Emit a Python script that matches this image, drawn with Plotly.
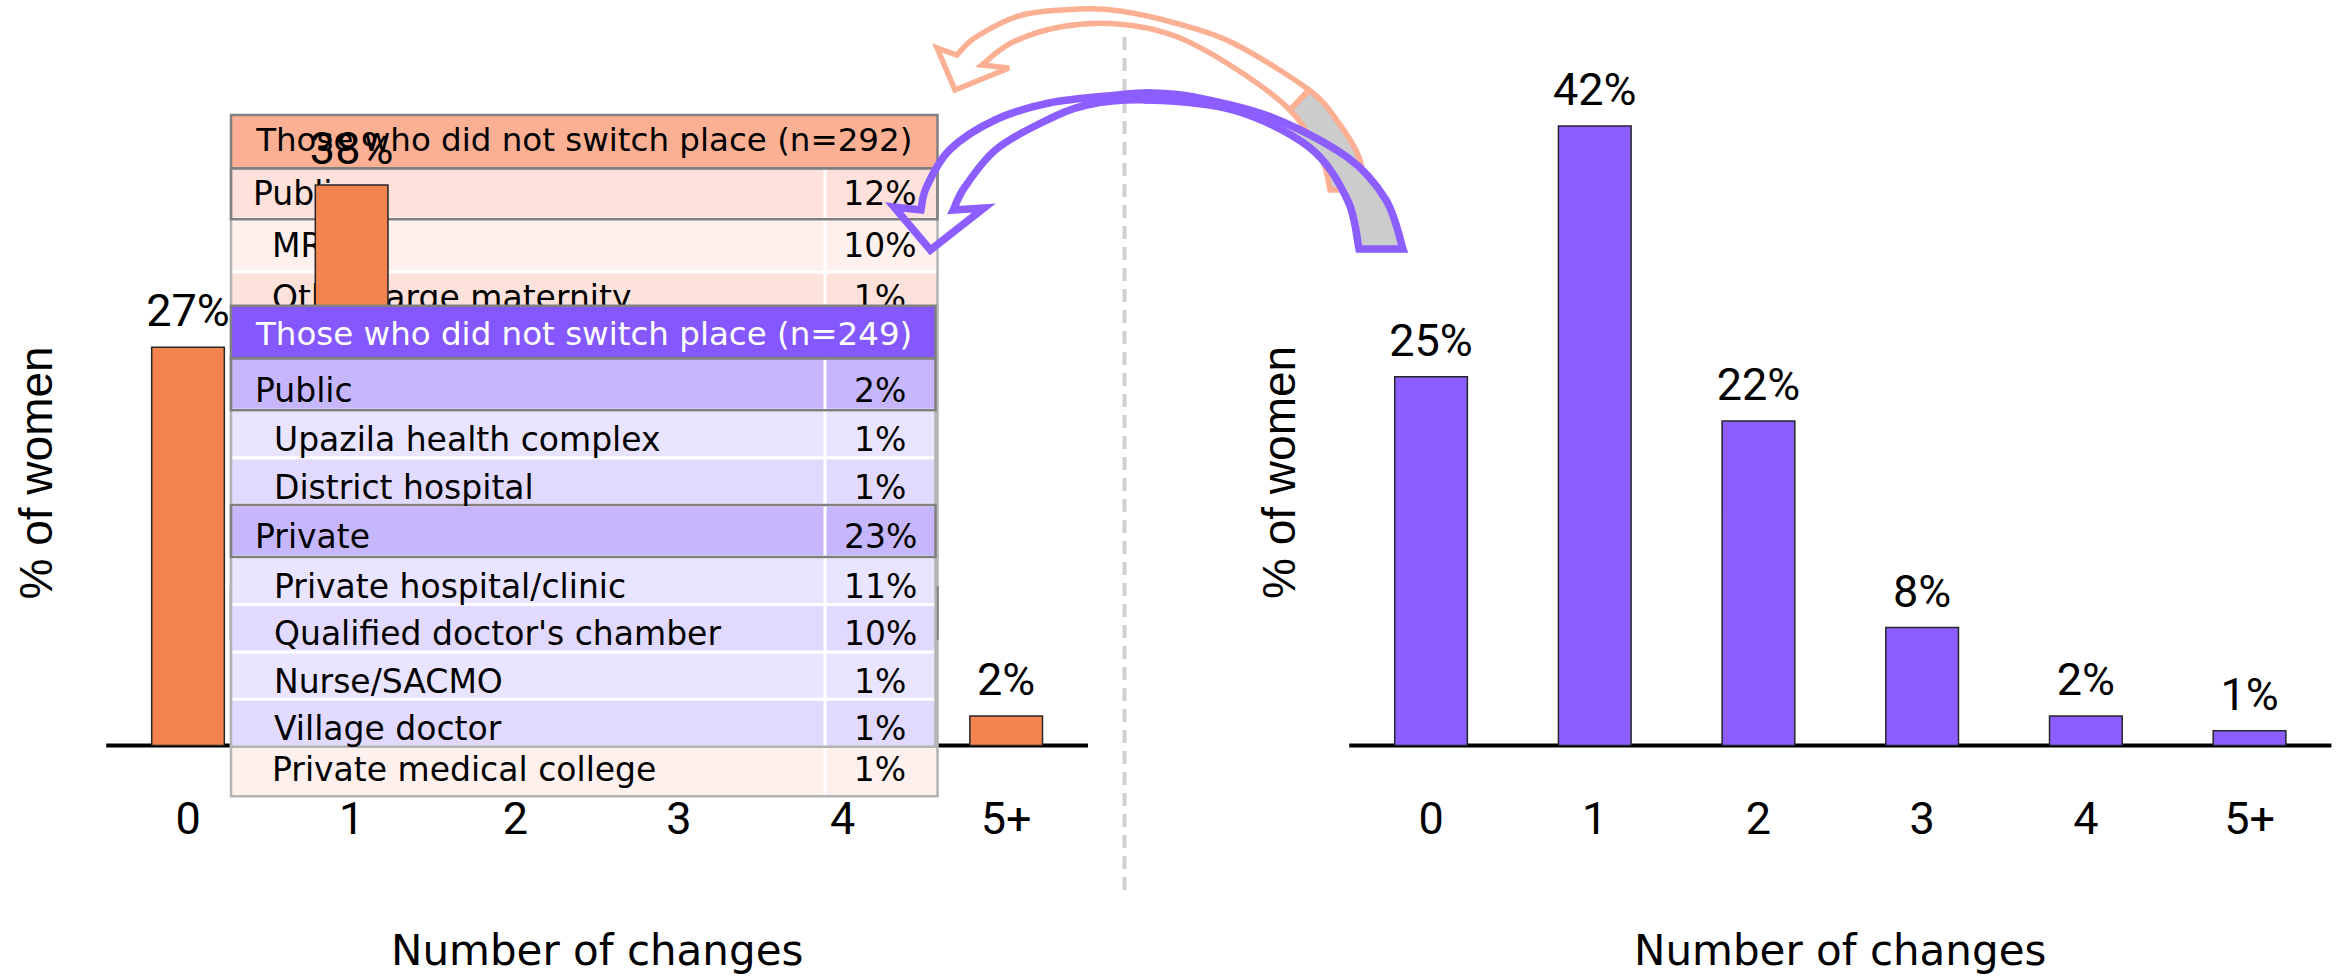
import plotly.graph_objects as go

# ------------------------------------------------------------------ data
categories = ["0", "1", "2", "3", "4", "5+"]
left_percent = [27, 38, 22, 8, 3, 2]      # bars 2-4 sit hidden behind the tables (estimated)
right_percent = [25, 42, 22, 8, 2, 1]

# orange table: rows 4-8 and 10-11 are completely covered in the picture (text unknown)
orange_title = "Those who did not switch place (n=292)"
orange_labels = ["Public", "MR", "Other large maternity", "", "", "", "", "",
                 "", "", "", "Private medical college"]
orange_values = ["12%", "10%", "1%", "", "", "", "", "",
                 "", "", "", "1%"]
orange_kinds = ["section", "sub", "sub", "sub", "sub", "sub", "sub", "sub",
                "section", "sub", "sub", "sub"]

purple_title = "Those who did not switch place (n=249)"
purple_labels = ["Public", "Upazila health complex", "District hospital", "Private",
                 "Private hospital/clinic", "Qualified doctor's chamber",
                 "Nurse/SACMO", "Village doctor"]
purple_values = ["2%", "1%", "1%", "23%", "11%", "10%", "1%", "1%"]
purple_kinds = ["section", "sub", "sub", "section", "sub", "sub", "sub", "sub"]

x_title = "Number of changes"
y_title = "% of women"

# ------------------------------------------------------------------ styles / geometry
W, H = 2341, 976
LABEL_FONT = "Roboto, Liberation Sans, sans-serif"
DEJAVU = "DejaVu Sans, Verdana, sans-serif"
ARIAL = "Liberation Sans, Arial, sans-serif"

ORANGE = "#F4844F"
PURPLE = "#8C5EFF"
BAR_LINE = "#262626"
ARROW_ORANGE = "#FBB093"
ARROW_PURPLE = "#8C5EFF"
ARROW_BACK = "#CCCCCC"


def px_x(v):
    return v / W


def px_y(v):
    return 1 - v / H


BASE_PX = 745.6
PX_PER_PCT = 14.75
Y_MAX = 50
Y_DOMAIN = [px_y(BASE_PX), px_y(BASE_PX - Y_MAX * PX_PER_PCT)]
LEFT_DOMAIN = [px_x(106.2), px_x(1088.0)]
RIGHT_DOMAIN = [px_x(1349.2), px_x(2331.4)]

orange_style = dict(x0=231.0, x1=937.5, top=115.0, head_h=53.3, sec_h=51.0, sub_h=52.6,
                    col=825.0, val_x=880.0, head_fill="#FBB093", head_font="black",
                    sec_fill="#FDE1DA", sub_fills=["#FEF0EC", "#FDE2DB"],
                    dark_line="#808080", outer_line="#B4B4B4", text_dy=3.0)
purple_style = dict(x0=231.0, x1=935.5, top=305.7, head_h=52.6, sec_h=52.0, sub_h=47.4,
                    col=825.0, val_x=880.0, head_fill="#8457FF", head_font="white",
                    sec_fill="#C6B7FD", sub_fills=["#E9E4FF", "#E1DAFE"],
                    dark_line="#808080", outer_line="#B4B4B4", text_dy=5.0)
HEAD_SIZE, ROW_SIZE = 32.5, 33


def table_rows(kinds, st):
    rows, y, k = [], st["top"] + st["head_h"], 0
    for kind in kinds:
        sec = kind == "section"
        h = st["sec_h"] if sec else st["sub_h"]
        if sec:
            fill, k = st["sec_fill"], 0
        else:
            fill = st["sub_fills"][k % 2]
            k += 1
        rows.append(dict(y0=y, y1=y + h, sec=sec, fill=fill))
        y += h
    return rows


def table_shapes(rows, st, layer):
    x0, x1 = st["x0"], st["x1"]
    top = st["top"]
    hb = top + st["head_h"]
    bottom = rows[-1]["y1"]
    c = dict(xref="x", yref="y", layer=layer)
    none = "rgba(0,0,0,0)"
    shp = []
    for r in rows:
        shp.append(dict(type="rect", x0=x0, x1=x1, y0=r["y0"], y1=r["y1"],
                        fillcolor=r["fill"], line=dict(width=0), **c))
    for r in rows[:-1]:
        shp.append(dict(type="line", x0=x0, x1=x1, y0=r["y1"], y1=r["y1"],
                        line=dict(color="white", width=3), **c))
    shp.append(dict(type="line", x0=st["col"], x1=st["col"], y0=hb, y1=bottom,
                    line=dict(color="white", width=3), **c))
    shp.append(dict(type="rect", x0=x0, x1=x1, y0=hb, y1=bottom, fillcolor=none,
                    line=dict(color=st["outer_line"], width=2.5), **c))
    for r in rows:
        if r["sec"]:
            shp.append(dict(type="rect", x0=x0, x1=x1, y0=r["y0"], y1=r["y1"], fillcolor=none,
                            line=dict(color=st["dark_line"], width=2.5), **c))
    shp.append(dict(type="rect", x0=x0, x1=x1, y0=top, y1=hb, fillcolor=st["head_fill"],
                    line=dict(color=st["dark_line"], width=2.5), **c))
    return shp


def table_text(title, labels, values, rows, st):
    items = []  # (x, y, text, position, color, size)
    cx = (st["x0"] + st["x1"]) / 2
    items.append((cx, st["top"] + st["head_h"] / 2 + 1.5, title, "center",
                  st["head_font"], HEAD_SIZE))
    for lab, val, r in zip(labels, values, rows):
        mid = (r["y0"] + r["y1"]) / 2 + st["text_dy"]
        if lab:
            items.append((st["x0"] + (22 if r["sec"] else 41), mid, lab, "left", "black", ROW_SIZE))
        if val:
            items.append((st["val_x"], mid, val, "center", "black", ROW_SIZE))
    return items


# ------------------------------------------------------------------ arrows (decoration)
def bezier_segments(pts):
    segs, n = [], len(pts)
    for i in range(n - 1):
        p0, p1, p2, p3 = pts[max(i - 1, 0)], pts[i], pts[i + 1], pts[min(i + 2, n - 1)]
        c1 = (p1[0] + (p2[0] - p0[0]) / 6, p1[1] + (p2[1] - p0[1]) / 6)
        c2 = (p2[0] - (p3[0] - p1[0]) / 6, p2[1] - (p3[1] - p1[1]) / 6)
        segs.append((p1, c1, c2, p2))
    return segs


def seg_str(segs, reverse=False):
    out = ""
    if reverse:
        for p1, c1, c2, p2 in reversed(segs):
            out += f" C {c2[0]:.1f},{c2[1]:.1f} {c1[0]:.1f},{c1[1]:.1f} {p1[0]:.1f},{p1[1]:.1f}"
    else:
        for p1, c1, c2, p2 in segs:
            out += f" C {c1[0]:.1f},{c1[1]:.1f} {c2[0]:.1f},{c2[1]:.1f} {p2[0]:.1f},{p2[1]:.1f}"
    return out


def arrow_paths(outer, inner, so_i, si_i, head):
    so, si = bezier_segments(outer), bezier_segments(inner)
    back = (f"M {outer[0][0]},{outer[0][1]}" + seg_str(so[:so_i]) +
            f" L {inner[si_i][0]},{inner[si_i][1]}" + seg_str(si[:si_i], reverse=True) + " Z")
    front = (f"M {outer[so_i][0]},{outer[so_i][1]}" + seg_str(so[so_i:]) +
             "".join(f" L {x},{y}" for x, y in head) + seg_str(si[si_i:], reverse=True) + " Z")
    return back, front


orange_arrow = dict(
    outer=[(1365, 190), (1359, 157), (1338, 122), (1309, 90), (1233, 43), (1175, 23),
           (1120, 11), (1080, 9), (1022, 15), (976, 37), (957, 55)],
    inner=[(1330, 190), (1321, 157), (1290, 110), (1233, 67), (1175, 36), (1118, 24),
           (1060, 27), (1011, 43), (982, 65)],
    so=3, si=2, head=[(937, 48), (955, 90), (1009, 68), (982, 65)], width=5.5)
purple_arrow = dict(
    outer=[(1403, 249), (1386, 200), (1347, 157), (1271, 117), (1194, 97), (1148, 93),
           (1118, 95), (1049, 103), (995, 120), (949.5, 150), (926.5, 187), (921, 210)],
    inner=[(1359, 249), (1347.5, 200), (1309, 147), (1233, 110), (1148, 100), (1087, 105),
           (1041, 123), (995.4, 150), (964.8, 187), (953.3, 210)],
    so=5, si=4, head=[(894, 207), (930.4, 250), (984, 208), (953.3, 210)], width=7.5)

# ------------------------------------------------------------------ figure
fig = go.Figure()

orange_rows = table_rows(orange_kinds, orange_style)
purple_rows = table_rows(purple_kinds, purple_style)

# orange table text lives in the full-page canvas subplot (drawn beneath the bar charts)
o_items = table_text(orange_title, orange_labels, orange_values, orange_rows, orange_style)
fig.add_trace(go.Scatter(
    x=[it[0] for it in o_items], y=[it[1] for it in o_items], text=[it[2] for it in o_items],
    mode="text",
    textposition=["middle right" if it[3] == "left" else "middle center" for it in o_items],
    textfont=dict(family=DEJAVU, size=[it[5] for it in o_items],
                  color=[it[4] for it in o_items]),
    xaxis="x", yaxis="y", hoverinfo="skip", showlegend=False))

label_font = dict(family=LABEL_FONT, size=45, color="black")
for vals, col, xa, ya in ((left_percent, ORANGE, "x2", "y2"), (right_percent, PURPLE, "x3", "y3")):
    fig.add_trace(go.Bar(
        x=categories, y=vals, xaxis=xa, yaxis=ya,
        marker=dict(color=col, line=dict(color=BAR_LINE, width=1.5)),
        hoverinfo="skip", showlegend=False))
    # value labels above the bars (transparent marker gives the gap above the bar top)
    fig.add_trace(go.Scatter(
        x=categories, y=vals, xaxis=xa, yaxis=ya, mode="markers+text",
        marker=dict(size=14, color="rgba(0,0,0,0)"),
        text=[f"{v}%" for v in vals], textposition="top center", textfont=label_font,
        cliponaxis=False, hoverinfo="skip", showlegend=False))

shapes = []
# divider + baselines (paper, lowest layer)
shapes.append(dict(type="line", xref="paper", yref="paper", layer="below",
                   x0=px_x(1124.5), x1=px_x(1124.5), y0=px_y(37), y1=px_y(896),
                   line=dict(color="#D0D0D0", width=4, dash="13px,8px")))
for dom in (LEFT_DOMAIN, RIGHT_DOMAIN):
    shapes.append(dict(type="line", xref="paper", yref="paper", layer="below",
                       x0=dom[0], x1=dom[1], y0=Y_DOMAIN[0], y1=Y_DOMAIN[0],
                       line=dict(color="black", width=4)))
# orange table under the bars, purple table over them
shapes += table_shapes(orange_rows, orange_style, "below")
shapes += table_shapes(purple_rows, purple_style, "above")
# curved arrows on top
for arr, col in ((orange_arrow, ARROW_ORANGE), (purple_arrow, ARROW_PURPLE)):
    back, front = arrow_paths(arr["outer"], arr["inner"], arr["so"], arr["si"], arr["head"])
    shapes.append(dict(type="path", path=back, xref="x", yref="y", layer="above",
                       fillcolor=ARROW_BACK, line=dict(color=col, width=arr["width"])))
    shapes.append(dict(type="path", path=front, xref="x", yref="y", layer="above",
                       fillcolor="rgba(0,0,0,0)", line=dict(color=col, width=arr["width"])))

annotations = []
for x, y, txt, pos, colr, size in table_text(purple_title, purple_labels, purple_values,
                                               purple_rows, purple_style):
    annotations.append(dict(x=x, y=y + 0.7, xref="x", yref="y", text=txt, showarrow=False,
                            xanchor="left" if pos == "left" else "center", yanchor="middle",
                            font=dict(family=DEJAVU, size=size, color=colr)))
for dom in (LEFT_DOMAIN, RIGHT_DOMAIN):
    annotations.append(dict(x=(dom[0] + dom[1]) / 2, y=px_y(950), xref="paper", yref="paper",
                            text=x_title, showarrow=False, xanchor="center", yanchor="middle",
                            font=dict(family=DEJAVU, size=42, color="black")))
for xp in (35.5, 1279):
    annotations.append(dict(x=px_x(xp), y=px_y(473), xref="paper", yref="paper",
                            text=y_title, showarrow=False, textangle=-90,
                            xanchor="center", yanchor="middle",
                            font=dict(family=ARIAL, size=46, color="black")))

cat_axis = dict(type="category", range=[-0.5, 5.5], showgrid=False, zeroline=False,
                showline=False, ticks="", tickfont=dict(family=LABEL_FONT, size=45, color="black"),
                ticklabelstandoff=42, fixedrange=True)
val_axis = dict(range=[0, Y_MAX], domain=Y_DOMAIN, visible=False, fixedrange=True)

fig.update_layout(
    width=W, height=H, margin=dict(l=0, r=0, t=0, b=0),
    paper_bgcolor="white", plot_bgcolor="rgba(0,0,0,0)", showlegend=False,
    bargap=0.556,
    xaxis=dict(domain=[0, 1], range=[0, W], visible=False, fixedrange=True),
    yaxis=dict(domain=[0, 1], range=[H, 0], visible=False, fixedrange=True),
    xaxis2=dict(cat_axis, domain=LEFT_DOMAIN, anchor="y2"),
    yaxis2=dict(val_axis, anchor="x2"),
    xaxis3=dict(cat_axis, domain=RIGHT_DOMAIN, anchor="y3"),
    yaxis3=dict(val_axis, anchor="x3"),
    shapes=shapes, annotations=annotations,
)

fig.write_html("out.html", config={"displayModeBar": False},
               post_script="document.body.style.margin='0';")
